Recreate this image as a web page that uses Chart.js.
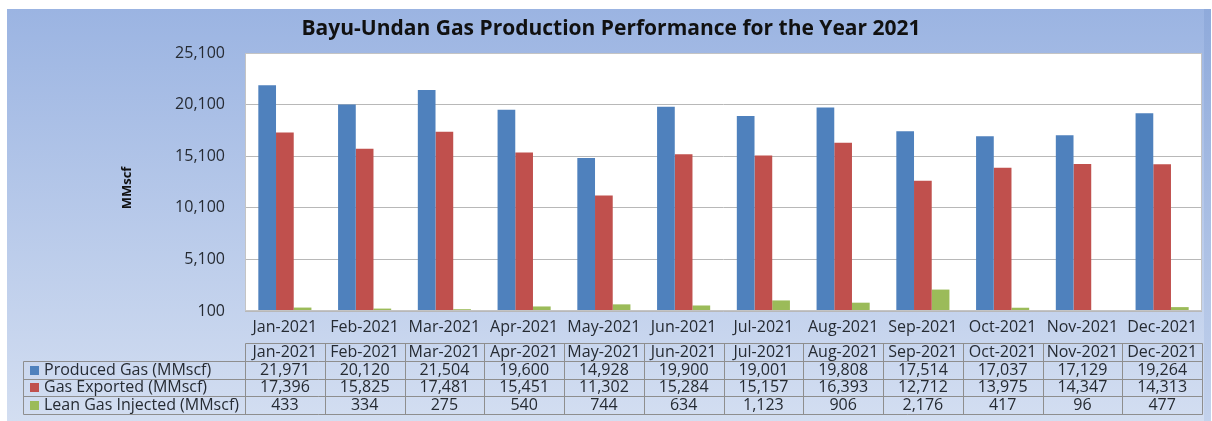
<!DOCTYPE html>
<html>
<head>
<meta charset="utf-8">
<script src="https://cdn.jsdelivr.net/npm/chart.js@4/dist/chart.umd.min.js"></script>
<style>
  html, body { margin: 0; padding: 0; background: #ffffff; }
  #wrap { width: 1212px; height: 421px; position: relative; }
</style>
</head>
<body>
<div id="wrap"><canvas id="c" width="1212" height="421"></canvas></div>
<script>
const chartTitle = 'Bayu-Undan Gas Production Performance for the Year 2021';
const yAxisTitle = 'MMscf';
const months = ['Jan-2021','Feb-2021','Mar-2021','Apr-2021','May-2021','Jun-2021','Jul-2021','Aug-2021','Sep-2021','Oct-2021','Nov-2021','Dec-2021'];
const seriesNames = ['Produced Gas (MMscf)','Gas Exported (MMscf)','Lean Gas Injected (MMscf)'];
const producedGas = [21971,20120,21504,19600,14928,19900,19001,19808,17514,17037,17129,19264];
const gasExported = [17396,15825,17481,15451,11302,15284,15157,16393,12712,13975,14347,14313];
const leanGasInjected = [433,334,275,540,744,634,1123,906,2176,417,96,477];
const yTicks = [100,5100,10100,15100,20100,25100];

const colors = ['#4F81BD','#C0504D','#9BBB59'];
const FONT = '"Open Sans", "DejaVu Sans", sans-serif';
const TEXT = '#262B33';
const fmt = v => v.toLocaleString('en-US');

const bgPlugin = {
  id: 'bg',
  beforeDraw(chart) {
    const ctx = chart.ctx;
    ctx.save();
    ctx.fillStyle = '#ffffff';
    ctx.fillRect(0, 0, chart.width, chart.height);
    const g = ctx.createLinearGradient(0, 9, 0, 421);
    g.addColorStop(0, '#9BB4E2');
    g.addColorStop(1, '#D3DEF1');
    ctx.fillStyle = g;
    ctx.fillRect(7, 9, 1204, 412);
    const g2 = ctx.createLinearGradient(0, 9, 0, 421);
    g2.addColorStop(0, '#8FAADB');
    g2.addColorStop(1, '#C3D2EC');
    ctx.fillStyle = g2;
    ctx.fillRect(1204, 9, 7, 412);
    const a = chart.chartArea;
    ctx.fillStyle = '#ffffff';
    ctx.fillRect(a.left, a.top, a.right - a.left, a.bottom - a.top);
    ctx.restore();
  },
  afterDatasetsDraw(chart) {
    const ctx = chart.ctx;
    const a = chart.chartArea;
    ctx.save();
    ctx.strokeStyle = '#C4C4C4';
    ctx.lineWidth = 1;
    ctx.strokeRect(Math.round(a.left) + 0.5, Math.round(a.top) + 0.5, Math.round(a.right - a.left) - 1, Math.round(a.bottom - a.top) - 1);
    // title
    ctx.fillStyle = '#111111';
    ctx.font = 'bold 21px ' + FONT;
    ctx.textAlign = 'center';
    ctx.textBaseline = 'middle';
    ctx.fillText(chartTitle, 611, 29);
    // y axis title
    ctx.translate(127, 188);
    ctx.rotate(-Math.PI / 2);
    ctx.font = 'bold 13px ' + FONT;
    ctx.fillStyle = '#111111';
    ctx.fillText(yAxisTitle, 0, 0);
    ctx.restore();
  }
};

const tablePlugin = {
  id: 'dataTable',
  afterDraw(chart) {
    const ctx = chart.ctx;
    const xs = chart.scales.x;
    const a = chart.chartArea;
    const n = months.length;
    const w = (a.right - a.left) / n;
    const top = 343, rowH = 17.75;
    const legLeft = 23;
    const rows = [producedGas, gasExported, leanGasInjected];
    ctx.save();
    ctx.strokeStyle = '#8E8E8E';
    ctx.lineWidth = 1;
    const px = v => Math.round(v) + 0.5;
    ctx.beginPath();
    ctx.moveTo(px(a.left), px(top)); ctx.lineTo(px(a.right), px(top));
    for (let r = 1; r <= 4; r++) {
      const y = px(top + r * rowH);
      ctx.moveTo(px(legLeft), y); ctx.lineTo(px(a.right), y);
    }
    ctx.moveTo(px(legLeft), px(top + rowH)); ctx.lineTo(px(legLeft), px(top + 4 * rowH));
    for (let i = 0; i <= n; i++) {
      const x = px(a.left + i * w);
      ctx.moveTo(x, px(top)); ctx.lineTo(x, px(top + 4 * rowH));
    }
    ctx.stroke();
    ctx.font = '16px ' + FONT;
    ctx.textBaseline = 'middle';
    ctx.fillStyle = TEXT;
    ctx.textAlign = 'center';
    for (let i = 0; i < n; i++) {
      const cx = xs.getPixelForValue(i);
      ctx.fillText(months[i], cx, top + rowH / 2 + 0.5);
      for (let r = 0; r < 3; r++) {
        ctx.fillText(fmt(rows[r][i]), cx, top + (r + 1.5) * rowH + 0.5);
      }
    }
    ctx.textAlign = 'left';
    for (let r = 0; r < 3; r++) {
      const cy = top + (r + 1.5) * rowH;
      ctx.fillStyle = colors[r];
      ctx.fillRect(30, Math.round(cy - 4), 9, 9);
      ctx.fillStyle = TEXT;
      ctx.fillText(seriesNames[r], 44, cy + 0.5);
    }
    ctx.restore();
  }
};

new Chart(document.getElementById('c'), {
  type: 'bar',
  data: {
    labels: months,
    datasets: [
      { label: seriesNames[0], data: producedGas, backgroundColor: colors[0] },
      { label: seriesNames[1], data: gasExported, backgroundColor: colors[1] },
      { label: seriesNames[2], data: leanGasInjected, backgroundColor: colors[2] }
    ]
  },
  options: {
    responsive: false,
    animation: false,
    devicePixelRatio: 1,
    layout: { padding: { top: 53, right: 10, left: 0, bottom: 0 } },
    datasets: { bar: { categoryPercentage: 0.666, barPercentage: 1.0 } },
    plugins: { legend: { display: false }, title: { display: false }, tooltip: { enabled: false } },
    scales: {
      x: {
        grid: { display: false, drawTicks: false },
        border: { display: false },
        ticks: { padding: 7, color: TEXT, font: { family: FONT, size: 16 }, maxRotation: 0 },
        afterFit(s) { s.height = 110; }
      },
      y: {
        min: 100, max: 25100,
        afterBuildTicks(s) { s.ticks = yTicks.map(v => ({ value: v })); },
        grid: { color: '#B8B8B8', drawTicks: false },
        border: { display: false },
        ticks: { padding: 20, color: TEXT, font: { family: FONT, size: 16 }, callback: v => fmt(v) },
        afterFit(s) { s.width = 245; }
      }
    }
  },
  plugins: [bgPlugin, tablePlugin]
});
</script>
</body>
</html>
